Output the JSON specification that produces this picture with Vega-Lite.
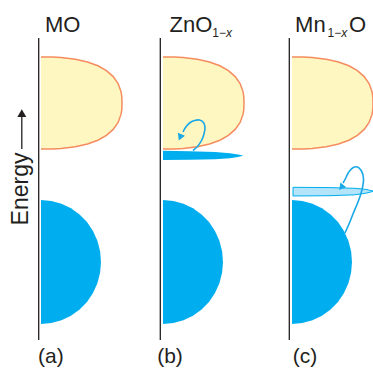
{
  "$schema": "https://vega.github.io/schema/vega-lite/v6.json",
  "width": 373,
  "height": 368,
  "autosize": "none",
  "padding": 0,
  "background": "white",
  "config": {"view": {"stroke": null}},
  "datasets": {
    "yellow": [
      {"p":"a","x0":41,"y":57,"x":41},{"p":"a","x0":41,"y":57.1,"x":52.5},{"p":"a","x0":41,"y":57.6,"x":61},{"p":"a","x0":41,"y":59.2,"x":75.3},{"p":"a","x0":41,"y":62,"x":87.5},{"p":"a","x0":41,"y":65.8,"x":97.9},{"p":"a","x0":41,"y":70.7,"x":106.4},{"p":"a","x0":41,"y":76.6,"x":113.2},{"p":"a","x0":41,"y":83.5,"x":118.1},{"p":"a","x0":41,"y":91.6,"x":121},{"p":"a","x0":41,"y":96.5,"x":121.8},{"p":"a","x0":41,"y":103,"x":122},{"p":"a","x0":41,"y":109.5,"x":121.8},{"p":"a","x0":41,"y":114.4,"x":121},{"p":"a","x0":41,"y":122.5,"x":118.1},{"p":"a","x0":41,"y":129.4,"x":113.2},{"p":"a","x0":41,"y":135.3,"x":106.4},{"p":"a","x0":41,"y":140.2,"x":97.9},{"p":"a","x0":41,"y":144,"x":87.5},{"p":"a","x0":41,"y":146.8,"x":75.3},{"p":"a","x0":41,"y":148.4,"x":61},{"p":"a","x0":41,"y":148.9,"x":52.5},{"p":"a","x0":41,"y":149,"x":41},
      {"p":"b","x0":163,"y":57,"x":163},{"p":"b","x0":163,"y":57.1,"x":174.5},{"p":"b","x0":163,"y":57.6,"x":183},{"p":"b","x0":163,"y":59.2,"x":197.3},{"p":"b","x0":163,"y":62,"x":209.5},{"p":"b","x0":163,"y":65.8,"x":219.9},{"p":"b","x0":163,"y":70.7,"x":228.4},{"p":"b","x0":163,"y":76.6,"x":235.2},{"p":"b","x0":163,"y":83.5,"x":240.1},{"p":"b","x0":163,"y":91.6,"x":243},{"p":"b","x0":163,"y":96.5,"x":243.8},{"p":"b","x0":163,"y":103,"x":244},{"p":"b","x0":163,"y":109.5,"x":243.8},{"p":"b","x0":163,"y":114.4,"x":243},{"p":"b","x0":163,"y":122.5,"x":240.1},{"p":"b","x0":163,"y":129.4,"x":235.2},{"p":"b","x0":163,"y":135.3,"x":228.4},{"p":"b","x0":163,"y":140.2,"x":219.9},{"p":"b","x0":163,"y":144,"x":209.5},{"p":"b","x0":163,"y":146.8,"x":197.3},{"p":"b","x0":163,"y":148.4,"x":183},{"p":"b","x0":163,"y":148.9,"x":174.5},{"p":"b","x0":163,"y":149,"x":163},
      {"p":"c","x0":292,"y":57,"x":292},{"p":"c","x0":292,"y":57.1,"x":303.5},{"p":"c","x0":292,"y":57.6,"x":312},{"p":"c","x0":292,"y":59.2,"x":326.3},{"p":"c","x0":292,"y":62,"x":338.5},{"p":"c","x0":292,"y":65.8,"x":348.9},{"p":"c","x0":292,"y":70.7,"x":357.4},{"p":"c","x0":292,"y":76.6,"x":364.2},{"p":"c","x0":292,"y":83.5,"x":369.1},{"p":"c","x0":292,"y":91.6,"x":372},{"p":"c","x0":292,"y":96.5,"x":372.8},{"p":"c","x0":292,"y":103,"x":373},{"p":"c","x0":292,"y":109.5,"x":372.8},{"p":"c","x0":292,"y":114.4,"x":372},{"p":"c","x0":292,"y":122.5,"x":369.1},{"p":"c","x0":292,"y":129.4,"x":364.2},{"p":"c","x0":292,"y":135.3,"x":357.4},{"p":"c","x0":292,"y":140.2,"x":348.9},{"p":"c","x0":292,"y":144,"x":338.5},{"p":"c","x0":292,"y":146.8,"x":326.3},{"p":"c","x0":292,"y":148.4,"x":312},{"p":"c","x0":292,"y":148.9,"x":303.5},{"p":"c","x0":292,"y":149,"x":292}
    ],
    "blue": [
      {"p":"a","x0":41,"y":200,"x":41},{"p":"a","x0":41,"y":200.9,"x":51.4},{"p":"a","x0":41,"y":203.7,"x":61.5},{"p":"a","x0":41,"y":208.3,"x":71},{"p":"a","x0":41,"y":214.5,"x":79.6},{"p":"a","x0":41,"y":222.1,"x":87},{"p":"a","x0":41,"y":231,"x":93},{"p":"a","x0":41,"y":240.8,"x":97.4},{"p":"a","x0":41,"y":251.2,"x":100.1},{"p":"a","x0":41,"y":262,"x":101},{"p":"a","x0":41,"y":272.8,"x":100.1},{"p":"a","x0":41,"y":283.2,"x":97.4},{"p":"a","x0":41,"y":293,"x":93},{"p":"a","x0":41,"y":301.9,"x":87},{"p":"a","x0":41,"y":309.5,"x":79.6},{"p":"a","x0":41,"y":315.7,"x":71},{"p":"a","x0":41,"y":320.3,"x":61.5},{"p":"a","x0":41,"y":323.1,"x":51.4},{"p":"a","x0":41,"y":324,"x":41},
      {"p":"b","x0":163,"y":200,"x":163},{"p":"b","x0":163,"y":200.9,"x":173.4},{"p":"b","x0":163,"y":203.7,"x":183.5},{"p":"b","x0":163,"y":208.3,"x":193},{"p":"b","x0":163,"y":214.5,"x":201.6},{"p":"b","x0":163,"y":222.1,"x":209},{"p":"b","x0":163,"y":231,"x":215},{"p":"b","x0":163,"y":240.8,"x":219.4},{"p":"b","x0":163,"y":251.2,"x":222.1},{"p":"b","x0":163,"y":262,"x":223},{"p":"b","x0":163,"y":272.8,"x":222.1},{"p":"b","x0":163,"y":283.2,"x":219.4},{"p":"b","x0":163,"y":293,"x":215},{"p":"b","x0":163,"y":301.9,"x":209},{"p":"b","x0":163,"y":309.5,"x":201.6},{"p":"b","x0":163,"y":315.7,"x":193},{"p":"b","x0":163,"y":320.3,"x":183.5},{"p":"b","x0":163,"y":323.1,"x":173.4},{"p":"b","x0":163,"y":324,"x":163},
      {"p":"c","x0":292,"y":200,"x":292},{"p":"c","x0":292,"y":200.9,"x":302.4},{"p":"c","x0":292,"y":203.7,"x":312.5},{"p":"c","x0":292,"y":208.3,"x":322},{"p":"c","x0":292,"y":214.5,"x":330.6},{"p":"c","x0":292,"y":222.1,"x":338},{"p":"c","x0":292,"y":231,"x":344},{"p":"c","x0":292,"y":240.8,"x":348.4},{"p":"c","x0":292,"y":251.2,"x":351.1},{"p":"c","x0":292,"y":262,"x":352},{"p":"c","x0":292,"y":272.8,"x":351.1},{"p":"c","x0":292,"y":283.2,"x":348.4},{"p":"c","x0":292,"y":293,"x":344},{"p":"c","x0":292,"y":301.9,"x":338},{"p":"c","x0":292,"y":309.5,"x":330.6},{"p":"c","x0":292,"y":315.7,"x":322},{"p":"c","x0":292,"y":320.3,"x":312.5},{"p":"c","x0":292,"y":323.1,"x":302.4},{"p":"c","x0":292,"y":324,"x":292}
    ],
    "wedge": [
      {"x":163,"y":150.8,"y2":160},{"x":190,"y":151.2,"y2":159.8},{"x":215,"y":152,"y2":159.3},{"x":230,"y":153.2,"y2":158.3},{"x":238,"y":154.4,"y2":157.1},{"x":243,"y":155.6,"y2":155.8}
    ],
    "band": [
      {"x":293,"y":187.3,"y2":196},{"x":330,"y":187.6,"y2":195.7},{"x":355,"y":188.3,"y2":194.8},{"x":366,"y":189.4,"y2":193.2},{"x":373,"y":191,"y2":191.4}
    ],
    "curls": [
      {"g":"b","i":0,"x":193,"y":150.5},{"g":"b","i":1,"x":197.5,"y":146.5},{"g":"b","i":2,"x":201.5,"y":140.5},{"g":"b","i":3,"x":204,"y":134},{"g":"b","i":4,"x":205,"y":127.5},{"g":"b","i":5,"x":203.5,"y":122.5},{"g":"b","i":6,"x":199.5,"y":120},{"g":"b","i":7,"x":194.5,"y":120.5},{"g":"b","i":8,"x":189.5,"y":123},{"g":"b","i":9,"x":185.5,"y":127.5},{"g":"b","i":10,"x":183,"y":132},
      {"g":"c","i":0,"x":345,"y":233},{"g":"c","i":1,"x":349,"y":224},{"g":"c","i":2,"x":353,"y":214},{"g":"c","i":3,"x":357,"y":204.5},{"g":"c","i":4,"x":360.5,"y":195},{"g":"c","i":5,"x":362.8,"y":186},{"g":"c","i":6,"x":363.5,"y":178.5},{"g":"c","i":7,"x":361.5,"y":171},{"g":"c","i":8,"x":357.5,"y":167},{"g":"c","i":9,"x":352.5,"y":168},{"g":"c","i":10,"x":348.5,"y":172.5},{"g":"c","i":11,"x":345.5,"y":178.5},{"g":"c","i":12,"x":343,"y":183}
    ],
    "rules": [
      {"x":38.7,"y":38,"y2":340},{"x":160.3,"y":38,"y2":340},{"x":289.3,"y":38,"y2":340},{"x":21.8,"y":117,"y2":149}
    ],
    "big": [
      {"t":"MO","x":45,"y":32.3},{"t":"ZnO","x":169.5,"y":32.3},{"t":"Mn","x":295.1,"y":32.3},{"t":"O","x":349,"y":32.3}
    ],
    "sub": [
      {"t":"1−","x":212.3,"y":37},{"t":"1−","x":327.5,"y":37}
    ],
    "subx": [
      {"t":"x","x":226,"y":37},{"t":"x","x":341.2,"y":37}
    ],
    "panels": [
      {"t":"(a)","x":50.8,"y":363},{"t":"(b)","x":170,"y":363},{"t":"(c)","x":305,"y":363}
    ],
    "ylabel": [
      {"t":"Energy","x":27.5,"y":189}
    ]
  },
  "encoding": {
    "x": {"field":"x","type":"quantitative","stack":null,"axis":null,"scale":{"domain":[0,373],"nice":false,"zero":false}},
    "y": {"field":"y","type":"quantitative","stack":null,"axis":null,"scale":{"domain":[0,368],"reverse":true,"nice":false,"zero":false}}
  },
  "layer": [
    {"data":{"name":"yellow"},"mark":{"type":"area","orient":"horizontal","color":"#fff7c2"},
     "encoding":{"x2":{"field":"x0"},"detail":{"field":"p"}}},
    {"data":{"name":"yellow"},"mark":{"type":"line","color":"#f58c5e","strokeWidth":1.5},
     "encoding":{"order":{"field":"y","type":"quantitative"},"detail":{"field":"p"}}},
    {"data":{"name":"blue"},"mark":{"type":"area","orient":"horizontal","color":"#00aeef"},
     "encoding":{"x2":{"field":"x0"},"detail":{"field":"p"}}},
    {"data":{"name":"wedge"},"mark":{"type":"area","orient":"vertical","color":"#00aeef"},
     "encoding":{"y2":{"field":"y2"}}},
    {"data":{"name":"band"},"mark":{"type":"area","orient":"vertical","fill":"#b3e4f9","stroke":"#00aeef","strokeWidth":1,"fillOpacity":1},
     "encoding":{"y2":{"field":"y2"}}},
    {"data":{"name":"curls"},"mark":{"type":"line","color":"#1aa8e6","strokeWidth":1.6,"interpolate":"catmull-rom"},
     "encoding":{"order":{"field":"i","type":"quantitative"},"detail":{"field":"g"}}},
    {"data":{"values":[{"x":180.1,"y":137.3}]},"mark":{"type":"point","shape":"triangle-up","filled":true,"color":"#1aa8e6","size":60,"angle":203,"opacity":1}},
    {"data":{"values":[{"x":343,"y":186.8}]},"mark":{"type":"point","shape":"triangle-up","filled":true,"color":"#1aa8e6","size":56,"angle":100,"opacity":1}},
    {"data":{"name":"rules"},"mark":{"type":"rule","color":"#231f20","strokeWidth":1.3},
     "encoding":{"y2":{"field":"y2"}}},
    {"data":{"values":[{"x":21.8,"y":113.2}]},"mark":{"type":"point","shape":"triangle-up","filled":true,"color":"#231f20","size":80,"opacity":1}},
    {"data":{"name":"big"},"mark":{"type":"text","font":"Liberation Sans","fontSize":22,"align":"left","baseline":"alphabetic","color":"#231f20"},
     "encoding":{"text":{"field":"t"}}},
    {"data":{"name":"sub"},"mark":{"type":"text","font":"Liberation Sans","fontSize":12,"align":"left","baseline":"alphabetic","color":"#231f20"},
     "encoding":{"text":{"field":"t"}}},
    {"data":{"name":"subx"},"mark":{"type":"text","font":"Liberation Sans","fontSize":12,"fontStyle":"italic","align":"left","baseline":"alphabetic","color":"#231f20"},
     "encoding":{"text":{"field":"t"}}},
    {"data":{"name":"panels"},"mark":{"type":"text","font":"Liberation Sans","fontSize":21,"align":"center","baseline":"alphabetic","color":"#231f20"},
     "encoding":{"text":{"field":"t"}}},
    {"data":{"name":"ylabel"},"mark":{"type":"text","font":"Liberation Sans","fontSize":23,"angle":270,"align":"center","baseline":"alphabetic","color":"#231f20"},
     "encoding":{"text":{"field":"t"}}}
  ]
}
